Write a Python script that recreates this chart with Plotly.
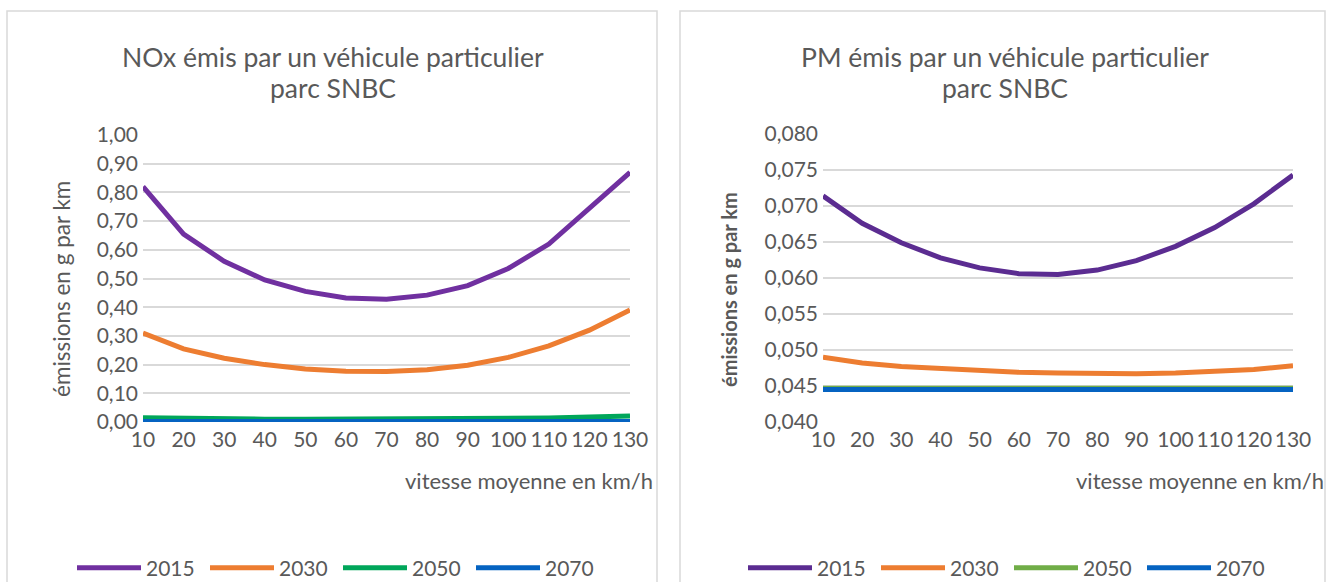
import plotly.graph_objects as go

W, H = 1326, 582

speeds = [10, 20, 30, 40, 50, 60, 70, 80, 90, 100, 110, 120, 130]
years = ["2015", "2030", "2050", "2070"]

nox_2015 = [0.820, 0.655, 0.560, 0.495, 0.455, 0.432, 0.428, 0.442, 0.475, 0.535, 0.620, 0.745, 0.870]
nox_2030 = [0.310, 0.255, 0.222, 0.200, 0.185, 0.177, 0.176, 0.182, 0.198, 0.225, 0.265, 0.320, 0.390]
nox_2050 = [0.015, 0.012, 0.011, 0.010, 0.010, 0.010, 0.010, 0.010, 0.011, 0.012, 0.014, 0.017, 0.021]
nox_2070 = [0.002] * 13

pm_2015 = [0.0714, 0.0676, 0.0649, 0.0628, 0.0614, 0.0606, 0.0605, 0.0611, 0.0624, 0.0644, 0.0670, 0.0703, 0.0743]
pm_2030 = [0.0490, 0.0482, 0.0477, 0.0474, 0.0471, 0.0469, 0.0468, 0.0467, 0.0467, 0.0468, 0.0470, 0.0473, 0.0478]
pm_2050 = [0.0447] * 13
pm_2070 = [0.0445] * 13

nox_colors = ["#7030A0", "#ED7D31", "#00A65A", "#0563C1"]
pm_colors = ["#5B2C91", "#ED7D31", "#70AD47", "#0563C1"]

FONT = "Lato"
GREY = "#595959"


def px_x(v):
    return v / W


def px_y(v):
    return 1 - v / H


def label(text, x, y, size, **kw):
    # every text is placed at an exact pixel spot of the 1326x582 page
    return dict(text=text, xref="paper", yref="paper", x=px_x(x), y=px_y(y),
                xanchor=kw.pop("xanchor", "center"), yanchor="middle",
                showarrow=False, font=dict(size=size, color=GREY, family=FONT), **kw)


fig = go.Figure()

for name, ys, col in zip(years, [nox_2015, nox_2030, nox_2050, nox_2070], nox_colors):
    fig.add_trace(go.Scatter(x=speeds, y=ys, name=name, mode="lines",
                             line=dict(color=col, width=5), xaxis="x", yaxis="y",
                             legend="legend", cliponaxis=False))

for name, ys, col in zip(years, [pm_2015, pm_2030, pm_2050, pm_2070], pm_colors):
    fig.add_trace(go.Scatter(x=speeds, y=ys, name=name, mode="lines",
                             line=dict(color=col, width=5), xaxis="x2", yaxis="y2",
                             legend="legend2", cliponaxis=False))

xcommon = dict(tickmode="array", tickvals=speeds, showgrid=False, zeroline=False,
               showline=False, ticks="", tickangle=0, automargin=False,
               ticklabelstandoff=3,
               tickfont=dict(size=21, color=GREY, family=FONT), range=[10, 130])
ycommon = dict(showgrid=True, gridcolor="#D9D9D9", gridwidth=1.5, zeroline=False,
               showline=False, ticks="", automargin=False, ticklabelstandoff=4,
               tickfont=dict(size=21, color=GREY, family=FONT))
legcommon = dict(orientation="h", xanchor="center", y=px_y(568), yanchor="middle",
                 font=dict(size=21, color=GREY, family=FONT), itemwidth=64,
                 entrywidth=54, bgcolor="rgba(0,0,0,0)")

fig.update_layout(
    width=W, height=H,
    margin=dict(l=0, r=0, t=0, b=0, autoexpand=False),
    paper_bgcolor="white", plot_bgcolor="white",
    separators=", ",
    font=dict(family=FONT, color=GREY),
    xaxis=dict(domain=[px_x(143), px_x(630)], anchor="y", **xcommon),
    yaxis=dict(domain=[px_y(422), px_y(135)], anchor="x", range=[0, 1.0],
               dtick=0.1, tickformat=".2f", **ycommon),
    xaxis2=dict(domain=[px_x(823), px_x(1293)], anchor="y2", **xcommon),
    yaxis2=dict(domain=[px_y(422), px_y(134)], anchor="x2", range=[0.040, 0.080],
                dtick=0.005, tickformat=".3f", **ycommon),
    legend=dict(x=px_x(338), **legcommon),
    legend2=dict(x=px_x(1009), **legcommon),
    shapes=[
        dict(type="rect", xref="paper", yref="paper", x0=px_x(7), x1=px_x(657),
             y0=-0.05, y1=px_y(11), line=dict(color="#D9D9D9", width=1.5)),
        dict(type="rect", xref="paper", yref="paper", x0=px_x(680), x1=px_x(1325),
             y0=-0.05, y1=px_y(11), line=dict(color="#D9D9D9", width=1.5)),
    ],
    annotations=[
        label("NOx émis par un véhicule particulier", 333, 57, 26.5),
        label("parc SNBC", 333, 88, 26.5),
        label("PM émis par un véhicule particulier", 1005, 57, 26.5),
        label("parc SNBC", 1005, 88, 26.5),
        label("émissions en g par km", 61, 289, 22.5, textangle=-90),
        label("<b>émissions en g par km</b>", 729, 290, 20, textangle=-90),
        label("vitesse moyenne en km/h", 655, 480, 22, xanchor="right"),
        label("vitesse moyenne en km/h", 1326, 480, 22, xanchor="right"),
    ],
)

fig.write_html("out.html", config={"displayModeBar": False},
               post_script="document.body.style.margin = '0';")
